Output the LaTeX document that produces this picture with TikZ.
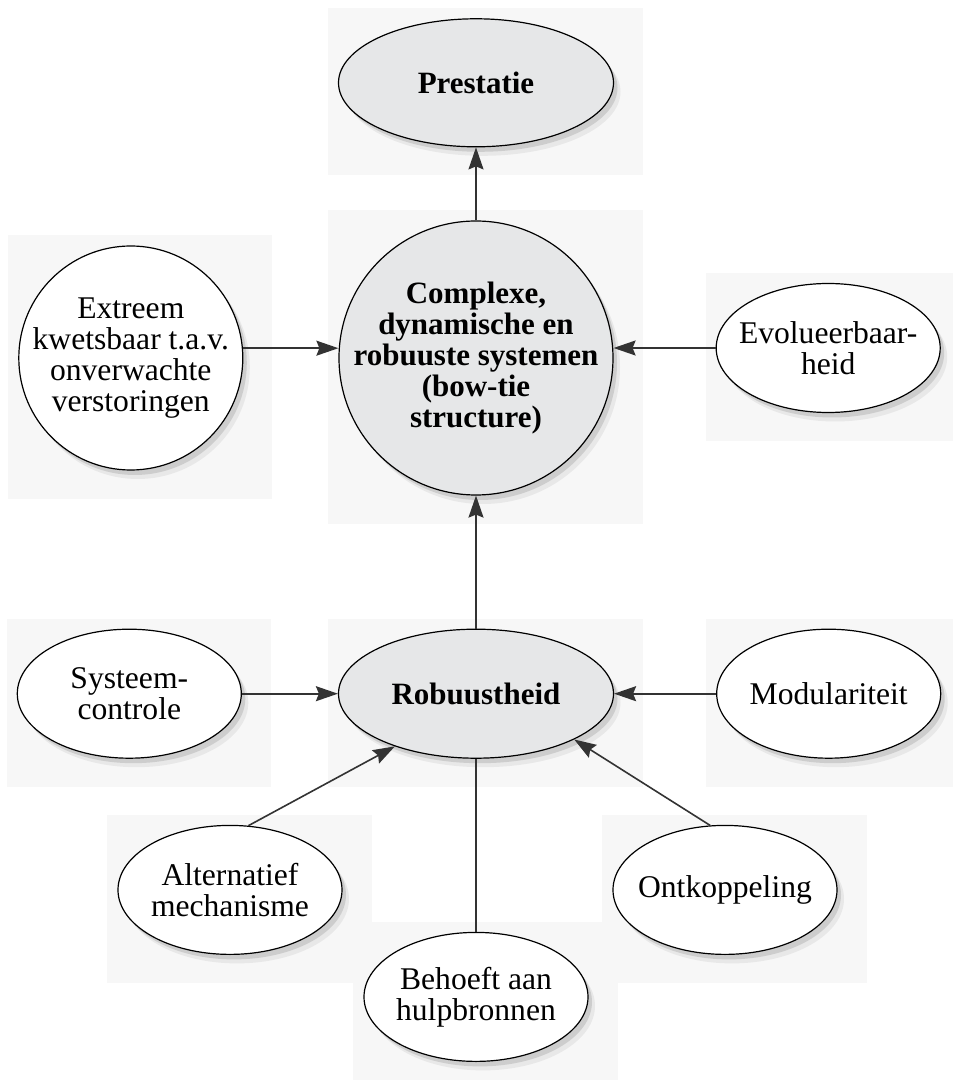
\documentclass[tikz,border=0pt]{standalone}
\usepackage{fontspec}
\setmainfont{Liberation Serif}
\usepackage{tikz}
\usetikzlibrary{arrows.meta,positioning,shapes.geometric,backgrounds,shadows,calc}
\definecolor{hubgray}{HTML}{E6E7E8}
\definecolor{panelbg}{HTML}{F7F7F7}
\definecolor{linegray}{HTML}{333333}

\begin{document}
\begin{tikzpicture}[
  every node/.style={font=\fontsize{15.8}{15.5}\selectfont, align=center},
  bubble/.style={ellipse, draw=black, line width=0.6pt, fill=white, inner sep=-8pt,
                 minimum width=112pt, minimum height=64.5pt,
                 drop shadow={shadow xshift=3.5pt, shadow yshift=-4.5pt, opacity=0.12},
                 drop shadow={shadow xshift=2pt, shadow yshift=-2.5pt, opacity=0.25}},
  hub/.style={bubble, fill=hubgray, font=\fontsize{15.5}{15.5}\selectfont\bfseries},
  arr/.style={-{Stealth[length=11pt, width=7.5pt, inset=1.5pt]}, line width=0.8pt, draw=linegray},
  link/.style={line width=0.8pt, draw=linegray},
]
  \useasboundingbox (-238pt,-361pt) rectangle (238pt,179pt);

  \node[hub, circle, minimum size=137pt] (cplx) {Complexe,\\dynamische en\\robuuste systemen\\(bow-tie\\structure)};
  \node[hub, minimum width=137.5pt, minimum height=64pt, above=36.5pt of cplx] (prest) {Prestatie};
  \node[bubble, circle, minimum size=112pt, left=47.5pt of cplx] (extr) {Extreem\\kwetsbaar t.a.v.\\onverwachte\\verstoringen};
  \node[bubble, right=51pt of cplx, yshift=5pt] (evol) {Evolueerbaar-\\heid};
  \node[hub, minimum width=137.5pt, minimum height=64.5pt, below=66.5pt of cplx] (robu) {Robuustheid};
  \node[bubble, left=48pt of robu] (sysc) {Systeem-\\controle};
  \node[bubble, right=51pt of robu] (modu) {Modulariteit};
  \node[bubble, below=33pt of robu, xshift=-123pt] (alte) {Alternatief\\mechanisme};
  \node[bubble, below=33pt of robu, xshift=124.5pt] (ontk) {Ontkoppeling};
  \node[bubble, below=86.5pt of robu] (beho) {Behoeft aan\\hulpbronnen};

  \begin{scope}[on background layer]
    \foreach \n in {prest,cplx,extr,evol,robu,sysc,modu,alte,ontk,beho}
      \fill[panelbg] ($(\n.west |- \n.north)+(-5pt,5pt)$) rectangle ($(\n.east |- \n.south)+(14.5pt,-14pt)$);
  \end{scope}

  \draw[arr] (cplx) -- (prest);
  \draw[arr] (extr.5) -- (extr.5 -| cplx.west);
  \draw[arr] (evol.west) -- (evol.west -| cplx.east);
  \draw[arr] (robu) -- (cplx);
  \draw[arr] (sysc) -- (robu);
  \draw[arr] (modu) -- (robu);
  \draw[arr] (alte.74) -- (robu.213);
  \draw[arr] (ontk.103) -- (robu.335);
  \draw[link] (beho) -- (robu);
\end{tikzpicture}
\end{document}
